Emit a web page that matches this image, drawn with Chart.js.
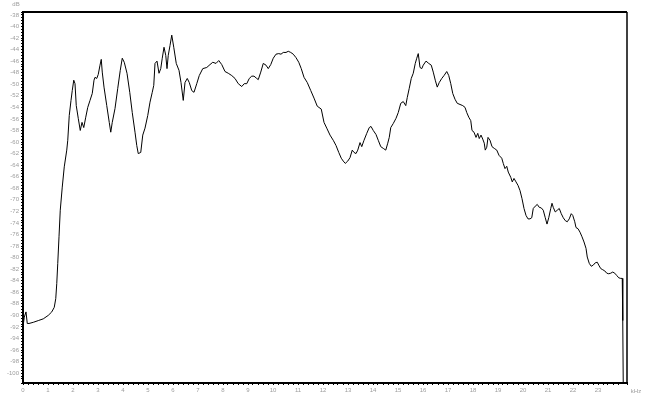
<!DOCTYPE html>
<html>
<head>
<meta charset="utf-8">
<script src="https://cdn.jsdelivr.net/npm/chart.js@4/dist/chart.umd.min.js"></script>
<style>
html,body{margin:0;padding:0;background:#fff;}
#wrap{width:655px;height:395px;position:relative;}
</style>
</head>
<body>
<div id="wrap"><canvas id="c" width="655" height="395"></canvas></div>
<script>
// Frequency (kHz) and level (dB)
const freqKHz = [
0.00,0.05,0.12,0.17,0.24,0.41,0.61,0.81,1.01,1.15,1.25,1.31,1.35,1.39,1.44,1.49,1.57,1.65,1.75,1.79,
1.85,1.92,1.97,2.03,2.08,2.13,2.21,2.29,2.36,2.43,2.51,2.59,2.68,2.77,2.84,2.88,2.95,3.01,3.08,3.13,
3.17,3.24,3.35,3.45,3.51,3.57,3.68,3.79,3.89,3.97,4.05,4.16,4.27,4.37,4.48,4.55,4.61,4.71,4.79,4.88,
4.99,5.08,5.17,5.23,5.28,5.36,5.44,5.51,5.57,5.64,5.71,5.76,5.81,5.88,5.95,6.03,6.13,6.24,6.32,6.41,
6.48,6.57,6.65,6.75,6.84,6.95,7.05,7.19,7.35,7.48,7.59,7.72,7.83,7.95,8.08,8.21,8.35,8.48,8.61,8.75,
8.85,8.95,9.05,9.15,9.24,9.35,9.41,9.51,9.61,9.72,9.81,9.91,10.01,10.12,10.23,10.32,10.41,10.52,10.61,10.71,
10.81,10.92,11.03,11.13,11.24,11.37,11.51,11.64,11.77,11.93,12.04,12.15,12.28,12.41,12.52,12.63,12.73,12.81,12.89,12.99,
13.08,13.17,13.24,13.32,13.39,13.48,13.55,13.64,13.75,13.85,13.92,14.01,14.12,14.21,14.31,14.41,14.51,14.59,14.65,14.71,
14.81,14.92,15.01,15.11,15.21,15.31,15.37,15.45,15.53,15.61,15.69,15.75,15.81,15.88,15.95,16.01,16.12,16.23,16.33,16.41,
16.49,16.57,16.65,16.75,16.84,16.95,17.03,17.11,17.19,17.28,17.37,17.48,17.59,17.68,17.75,17.83,17.91,17.96,18.04,18.12,
18.19,18.25,18.32,18.39,18.45,18.49,18.55,18.60,18.68,18.76,18.85,18.95,19.04,19.15,19.21,19.28,19.35,19.41,19.51,19.57,
19.64,19.72,19.80,19.88,19.96,20.04,20.12,20.20,20.28,20.35,20.41,20.49,20.57,20.65,20.73,20.81,20.89,20.96,21.03,21.11,
21.16,21.21,21.29,21.37,21.45,21.53,21.61,21.69,21.77,21.85,21.93,21.99,22.07,22.12,22.20,22.28,22.36,22.44,22.52,22.57,
22.65,22.73,22.81,22.89,22.97,23.03,23.11,23.19,23.27,23.35,23.43,23.51,23.59,23.67,23.75,23.83,23.91,23.97,23.99,24.01
];
const levelDb = [
-92.0,-90.3,-89.4,-91.4,-91.4,-91.2,-90.9,-90.6,-90.0,-89.4,-88.6,-87.1,-84.5,-81.0,-76.4,-71.8,-67.8,-64.3,-61.4,-59.7,
-55.4,-52.8,-51.1,-49.3,-49.9,-53.7,-55.9,-58.0,-56.6,-57.5,-55.7,-54.0,-52.8,-51.6,-49.3,-48.8,-49.0,-48.3,-46.7,-45.7,
-47.9,-50.5,-53.7,-56.6,-58.3,-56.6,-54.2,-50.7,-47.6,-45.5,-46.2,-48.1,-51.4,-54.9,-58.3,-60.6,-62.0,-61.8,-58.8,-57.6,
-55.4,-53.1,-51.4,-50.2,-46.4,-46.0,-48.1,-47.3,-45.5,-43.6,-45.0,-47.3,-45.0,-43.3,-41.5,-43.6,-46.4,-47.6,-49.7,-52.8,
-49.7,-49.0,-49.7,-51.1,-51.4,-49.9,-48.5,-47.3,-47.1,-46.6,-46.2,-46.4,-45.9,-46.6,-47.8,-48.1,-48.5,-49.0,-49.9,-50.4,
-49.9,-49.9,-49.0,-48.6,-48.6,-49.0,-49.2,-47.9,-46.4,-46.7,-47.3,-46.6,-45.5,-44.8,-44.7,-44.8,-44.5,-44.5,-44.3,-44.5,
-44.8,-45.4,-46.2,-47.3,-48.8,-49.7,-51.1,-52.4,-53.8,-54.3,-56.6,-57.6,-58.8,-59.7,-60.6,-61.8,-62.8,-63.3,-63.7,-63.3,
-62.7,-61.4,-61.8,-62.0,-61.4,-60.1,-60.8,-59.7,-58.5,-57.5,-57.3,-58.0,-58.7,-59.7,-60.8,-61.1,-61.4,-60.2,-59.2,-57.5,
-56.8,-55.9,-54.9,-53.3,-53.0,-53.7,-52.3,-50.7,-49.0,-48.1,-46.4,-45.5,-44.7,-47.1,-47.3,-46.7,-46.0,-46.4,-46.7,-47.9,
-49.3,-50.5,-49.7,-49.0,-48.5,-47.8,-48.5,-49.9,-51.6,-52.6,-53.3,-53.5,-53.7,-54.0,-54.9,-55.7,-56.3,-58.0,-58.3,-59.2,
-58.5,-59.4,-58.8,-59.5,-60.2,-61.4,-60.9,-59.2,-59.7,-60.8,-61.1,-61.4,-62.3,-62.8,-63.7,-64.6,-64.2,-65.2,-66.1,-66.9,
-66.3,-66.9,-67.5,-68.4,-69.8,-71.5,-72.7,-73.3,-73.3,-73.1,-71.5,-71.1,-70.8,-71.3,-71.4,-71.8,-73.1,-74.2,-73.1,-71.5,
-70.6,-71.3,-72.1,-71.8,-71.5,-72.4,-73.1,-73.6,-73.8,-73.3,-72.4,-72.7,-73.8,-74.8,-75.0,-75.6,-76.4,-77.3,-78.4,-79.9,
-81.0,-81.5,-81.3,-80.9,-80.8,-81.3,-81.9,-82.1,-82.3,-82.7,-82.8,-82.7,-82.5,-82.7,-83.1,-83.5,-83.6,-83.6,-90.9,-102.0
];
// Axis ranges and tick steps
const xMin = 0, xMax = 24.16, xStep = 0.2, xLastLabel = 23;
const yMin = -101.7, yMax = -37.5, yStep = 0.5, yLabelEvery = 2, yLowestLabel = -100;
const xUnit = 'kHz';
const yUnit = 'dB';

const points = freqKHz.map((f, i) => ({x: f, y: levelDb[i]}));
const labelColor = '#9c9c9c';
const labelFont = {family: 'Liberation Sans', size: 6};

const framePlugin = {
  id: 'frame',
  afterDraw(chart) {
    const {ctx, chartArea: a} = chart;
    ctx.save();
    ctx.strokeStyle = '#000';
    ctx.lineWidth = 2;
    ctx.beginPath();
    ctx.moveTo(a.left, a.top);
    ctx.lineTo(a.right, a.top);
    ctx.stroke();
    ctx.lineWidth = 1.5;
    ctx.beginPath();
    ctx.moveTo(a.right, a.top);
    ctx.lineTo(a.right, a.bottom);
    ctx.stroke();
    ctx.fillStyle = labelColor;
    ctx.font = '6px "Liberation Sans"';
    ctx.textAlign = 'center';
    ctx.textBaseline = 'middle';
    ctx.fillText(yUnit, 16, 4);
    ctx.fillText(xUnit, a.right + 9, a.bottom + 8);
    ctx.restore();
  }
};

new Chart(document.getElementById('c'), {
  type: 'line',
  data: {
    datasets: [{
      data: points,
      borderColor: '#000',
      borderWidth: 1,
      pointRadius: 0,
      tension: 0,
      fill: false
    }]
  },
  options: {
    responsive: false,
    animation: false,
    events: [],
    layout: {padding: {top: 12, right: 28, left: 0, bottom: 0}},
    plugins: {legend: {display: false}, tooltip: {enabled: false}},
    scales: {
      x: {
        type: 'linear',
        min: xMin, max: xMax,
        afterFit(s) { s.height = 12; },
        border: {display: true, color: '#000', width: 2},
        grid: {display: true, drawOnChartArea: false, drawTicks: true, tickLength: 2, color: '#000'},
        ticks: {
          stepSize: xStep, autoSkip: false, maxRotation: 0, minRotation: 0,
          padding: 2, color: labelColor, font: labelFont,
          callback(v) {
            const r = Math.round(v);
            return (Math.abs(v - r) < 1e-6 && r <= xLastLabel) ? String(r) : '';
          }
        }
      },
      y: {
        type: 'linear',
        min: yMin, max: yMax,
        afterFit(s) { s.width = 23; },
        border: {display: true, color: '#000', width: 2},
        grid: {display: true, drawOnChartArea: false, drawTicks: true, tickLength: 2, color: '#000'},
        ticks: {
          stepSize: yStep, autoSkip: false,
          padding: 2, color: labelColor, font: labelFont,
          callback(v) {
            const k = v / yLabelEvery;
            return (Math.abs(k - Math.round(k)) < 1e-6 && v >= yLowestLabel) ? String(Math.round(v)) : '';
          }
        }
      }
    }
  },
  plugins: [framePlugin]
});
</script>
</body>
</html>
